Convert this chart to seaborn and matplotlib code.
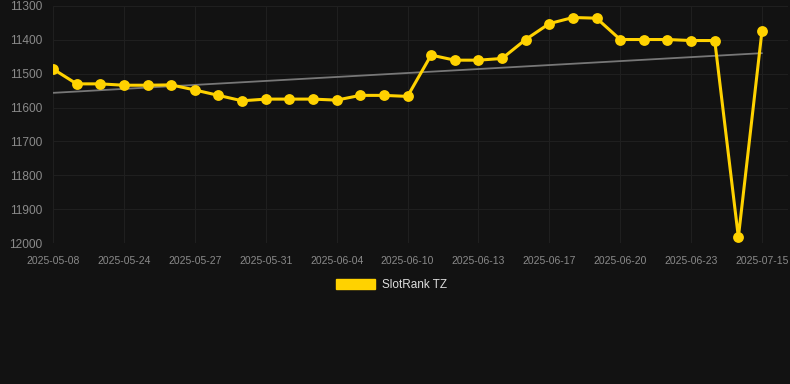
import numpy as np
import pandas as pd
import matplotlib
matplotlib.use("Agg")
import matplotlib.pyplot as plt
import matplotlib.patches as mpatches
import seaborn as sns

# rank values (lower is better, axis inverted)
ranks = [11486, 11530, 11530, 11534, 11534, 11533, 11548, 11564, 11580, 11575,
         11575, 11575, 11578, 11564, 11564, 11567, 11445, 11460, 11460, 11455,
         11399, 11352, 11334, 11336, 11399, 11399, 11399, 11402, 11402, 11983,
         11373]
tick_labels = ["2025-05-08", "2025-05-24", "2025-05-27", "2025-05-31", "2025-06-04",
               "2025-06-10", "2025-06-13", "2025-06-17", "2025-06-20", "2025-06-23",
               "2025-07-15"]
series_name = "SlotRank TZ"

bg = "#121212"
yellow = "#FFD200"

df = pd.DataFrame({"idx": np.arange(len(ranks)), "rank": ranks})

sns.set_style("dark")
plt.rcParams["font.family"] = ["Liberation Sans", "DejaVu Sans"]

fig = plt.figure(figsize=(7.9, 3.84), dpi=100, facecolor=bg)
ax = fig.add_axes([53 / 790, 141 / 384, 735 / 790, 237 / 384])
ax.set_facecolor(bg)

# trend line (linear fit)
coef = np.polyfit(df["idx"], df["rank"], 1)
trend = np.polyval(coef, df["idx"])
ax.plot(df["idx"], trend, color="#777777", lw=1.3, zorder=2)

sns.lineplot(data=df, x="idx", y="rank", ax=ax, color=yellow, lw=2.2,
             marker="o", markersize=7.8, markeredgewidth=0, zorder=3)

ax.set_ylim(12000, 11300)
ax.set_yticks(range(11300, 12001, 100))
ax.set_xlim(0, 31.1)
ax.set_xticks(np.arange(0, len(ranks), 3))
ax.set_xticklabels(tick_labels)
ax.set_xlabel("")
ax.set_ylabel("")

ax.grid(True, color="#1f1f1f", lw=0.8)
for s in ax.spines.values():
    s.set_visible(False)
ax.tick_params(colors="#8a8a8a", length=0)
ax.tick_params(axis="x", labelsize=7.5, pad=9)
ax.tick_params(axis="y", labelsize=8.6, pad=8)

handle = mpatches.Patch(color=yellow, label=series_name)
fig.legend(handles=[handle], loc="center", bbox_to_anchor=(0.496, 1 - 285 / 384),
           frameon=False, labelcolor="#dddddd", fontsize=8.5,
           handlelength=3.3, handleheight=1.0, handletextpad=0.6)

fig.savefig("out.png", dpi=100, facecolor=bg)
